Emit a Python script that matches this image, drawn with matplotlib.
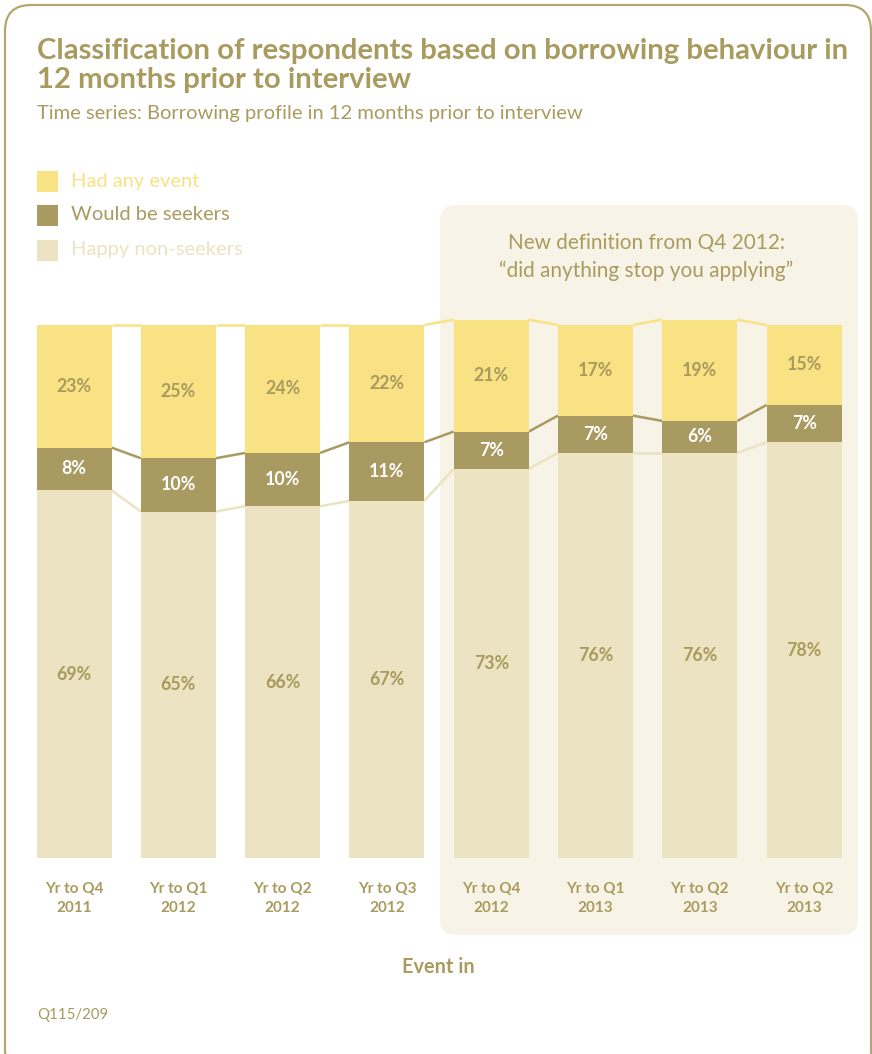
import matplotlib
matplotlib.use("Agg")
import matplotlib.pyplot as plt
from matplotlib.patches import FancyBboxPatch, Rectangle

# ---------------- data ----------------
categories = ["Yr to Q4\n2011", "Yr to Q1\n2012", "Yr to Q2\n2012", "Yr to Q3\n2012",
              "Yr to Q4\n2012", "Yr to Q1\n2013", "Yr to Q2\n2013", "Yr to Q2\n2013"]
happy_non_seekers = [69, 65, 66, 67, 73, 76, 76, 78]
would_be_seekers = [8, 10, 10, 11, 7, 7, 6, 7]
had_any_event = [23, 25, 24, 22, 21, 17, 19, 15]
series_names = ["Had any event", "Would be seekers", "Happy non-seekers"]

title = "Classification of respondents based on borrowing behaviour in\n12 months prior to interview"
subtitle = "Time series: Borrowing profile in 12 months prior to interview"
note = "New definition from Q4 2012:\n\u201cdid anything stop you applying\u201d"
xlabel = "Event in"
source = "Q115/209"

# ---------------- style ----------------
C_TEXT = "#A99B5E"
C_EVENT = "#F9E283"
C_SEEK = "#A89A60"
C_HAPPY = "#EBE3C1"
C_BOX = "#F7F4E7"
C_FRAME = "#B3A66F"
FONT = "Lato"

W, H = 872, 1054
fig = plt.figure(figsize=(W / 100, H / 100), dpi=100)
fig.patch.set_facecolor("white")

# background / overlay axes in pixel coordinates
bg = fig.add_axes([0, 0, 1, 1], zorder=0)
bg.set_xlim(0, W)
bg.set_ylim(H, 0)
bg.axis("off")

renderer = fig.canvas.get_renderer()


def fit(t, target):
    bb = t.get_window_extent(renderer)
    t.set_fontsize(t.get_fontsize() * target / bb.width)


# outer frame
bg.add_patch(FancyBboxPatch((5, 5), W - 6, H + 20,
                            boxstyle="round,pad=0,rounding_size=26",
                            facecolor="none", edgecolor=C_FRAME, linewidth=1.6,
                            clip_on=False))
# highlight box
bg.add_patch(FancyBboxPatch((440, 205), 418, 730,
                            boxstyle="round,pad=0,rounding_size=16",
                            facecolor=C_BOX, edgecolor="none"))

# title / subtitle
t = bg.text(37, 88, title, fontsize=19, fontweight="bold", color=C_TEXT,
            family=FONT, va="baseline", ha="left", linespacing=1.12)
fit(t, 808)
t = bg.text(37, 113, subtitle, fontsize=13, color=C_TEXT, family=FONT,
            va="center", ha="left")
fit(t, 544)

# legend
leg_colors = [C_EVENT, C_SEEK, C_HAPPY]
leg_y = [181, 215, 250]
leg_texts = []
for name, col, y in zip(series_names, leg_colors, leg_y):
    bg.add_patch(Rectangle((37, y - 10.5), 21, 21, facecolor=col, edgecolor="none"))
    tt = bg.text(71, y, name, fontsize=13, color=col, family=FONT,
                 va="center", ha="left")
    leg_texts.append(tt)
fit(leg_texts[0], 128)
for tt in leg_texts[1:]:
    tt.set_fontsize(leg_texts[0].get_fontsize())

# note in the box
t = bg.text(646, 257, note, fontsize=13, color=C_TEXT, family=FONT,
            va="center", ha="center", linespacing=1.45)
fit(t, 293)

# x label and source
t = bg.text(438, 967, xlabel, fontsize=12, fontweight="bold", color=C_TEXT,
            family=FONT, va="center", ha="center")
fit(t, 72)
t = bg.text(37, 1015, source, fontsize=10, color=C_TEXT, family=FONT,
            va="center", ha="left")
fit(t, 71)

# ---------------- bar axes ----------------
px_per_pct = 5.33
step = 104.3
x_first = 74.0
left_px = x_first - step / 2
right_px = x_first + 7 * step + step / 2
y0_px = 858
ymax = 105
ax = fig.add_axes([left_px / W, (H - y0_px) / H, (right_px - left_px) / W,
                   ymax * px_per_pct / H], zorder=1)
ax.patch.set_alpha(0)
ax.set_xlim(-0.5, len(categories) - 0.5)
ax.set_ylim(0, ymax)
for s in ax.spines.values():
    s.set_visible(False)
ax.set_yticks([])

bw = 75 / step
xs = list(range(len(categories)))
ax.bar(xs, happy_non_seekers, width=bw, color=C_HAPPY, zorder=3)
ax.bar(xs, would_be_seekers, width=bw, bottom=happy_non_seekers, color=C_SEEK, zorder=3)
bot_e = [h + s for h, s in zip(happy_non_seekers, would_be_seekers)]
ax.bar(xs, had_any_event, width=bw, bottom=bot_e, color=C_EVENT, zorder=3)
tops = [b + e for b, e in zip(bot_e, had_any_event)]

# connector lines
for vals, col in [(happy_non_seekers, C_HAPPY), (bot_e, C_SEEK), (tops, C_EVENT)]:
    for i in range(len(xs) - 1):
        ax.plot([xs[i] + bw / 2, xs[i + 1] - bw / 2], [vals[i], vals[i + 1]],
                color=col, lw=1.8, zorder=2, solid_capstyle="butt")

# value labels
LFS = 12.8
for i in xs:
    ax.text(i, happy_non_seekers[i] / 2, f"{happy_non_seekers[i]}%", ha="center",
            va="center", color=C_TEXT, fontsize=LFS, fontweight="bold", family=FONT, zorder=4)
    ax.text(i, happy_non_seekers[i] + would_be_seekers[i] / 2, f"{would_be_seekers[i]}%",
            ha="center", va="center", color="white", fontsize=LFS, fontweight="bold",
            family=FONT, zorder=4)
    ax.text(i, bot_e[i] + had_any_event[i] / 2, f"{had_any_event[i]}%", ha="center",
            va="center", color=C_TEXT, fontsize=LFS, fontweight="bold", family=FONT, zorder=4)

ax.set_xticks(xs, labels=categories)
ax.tick_params(axis="x", length=0, pad=17, labelcolor=C_TEXT)
for lab in ax.get_xticklabels():
    lab.set_fontweight("bold")
    lab.set_family(FONT)
    lab.set_fontsize(11)
    lab.set_linespacing(1.45)
    lab.set_ha("center")

fig.savefig("out.png", dpi=100, facecolor="white")
